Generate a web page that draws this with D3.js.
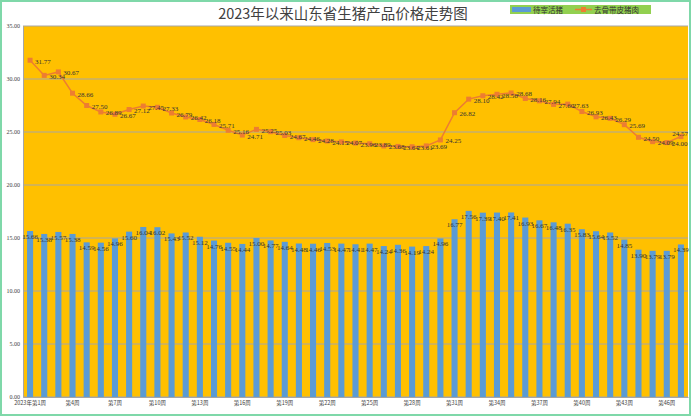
<!DOCTYPE html>
<html><head><meta charset="utf-8">
<script src="https://cdn.jsdelivr.net/npm/d3@7"></script>
<style>html,body{margin:0;padding:0;background:#fff;}svg{display:block;}</style>
</head><body>
<svg id="c" width="691" height="416"></svg>
<script>
const weeks = d3.range(1, 48).map(i => i === 1 ? "2023年第1周" : "第" + i + "周");
const liveHog = [15.66,15.38,15.57,15.38,14.59,14.56,14.96,15.60,16.04,16.02,15.43,15.52,15.12,14.76,14.55,14.44,15.00,14.77,14.64,14.48,14.46,14.53,14.47,14.41,14.47,14.24,14.36,14.19,14.24,14.96,16.77,17.56,17.39,17.40,17.41,16.93,16.67,16.48,16.35,15.83,15.64,15.52,14.85,13.90,13.79,13.79,14.39];
const pork = [31.77,30.34,30.67,28.66,27.50,26.89,26.67,27.12,27.45,27.33,26.79,26.42,26.18,25.71,25.16,24.71,25.25,25.03,24.67,24.46,24.28,24.15,24.07,23.96,23.89,23.68,23.64,23.61,23.69,24.25,26.82,28.10,28.42,28.56,28.68,28.16,27.94,27.60,27.63,26.93,26.43,26.29,25.69,24.50,24.09,24.00,24.57];
const yTicks = [0,5,10,15,20,25,30,35];
const seriesNames = ["待宰活猪", "去骨带皮猪肉"];
const title = "2023年以来山东省生猪产品价格走势图";

const svg = d3.select("#c");
const W = 691, H = 416;
const L = 23, R = 688, T = 26, B = 397;
const numFont = "'Liberation Serif','DejaVu Serif',serif";
const cjkFont = "'Noto Sans CJK SC','Noto Sans',sans-serif";

svg.append("rect").attr("x",1).attr("y",1).attr("width",W-2).attr("height",H-2)
  .attr("fill","#fff").attr("stroke","#7fd8a9").attr("stroke-width",2);

const x = d3.scaleBand().domain(weeks).range([L, R]).paddingInner(0.57).paddingOuter(0.285);
const y = d3.scaleLinear().domain([0, 35]).range([B, T]);
const cx = d => x(d) + x.bandwidth()/2;

svg.append("rect").attr("x",L).attr("y",T).attr("width",R-L).attr("height",B-T).attr("fill","#FFC000");

// grid
svg.append("g").selectAll("line").data(yTicks).join("line")
  .attr("x1",L).attr("x2",R).attr("y1",d=>y(d)).attr("y2",d=>y(d))
  .attr("stroke","#a6a6a6").attr("stroke-width",1);

// y axis
const ya = svg.append("g").attr("transform",`translate(${L},0)`)
  .call(d3.axisLeft(y).tickValues(yTicks).tickFormat(d3.format(".2f")).tickSize(0).tickPadding(3));
ya.select(".domain").attr("stroke","#a6a6a6");
ya.selectAll("text").attr("font-family",numFont).attr("font-size",6).attr("fill","#404040");

// x axis
const xa = svg.append("g").attr("transform",`translate(0,${B})`)
  .call(d3.axisBottom(x).tickValues(weeks.filter((d,i)=>i%3===0)).tickSize(0).tickPadding(4));
xa.select(".domain").attr("stroke","#a6a6a6");
xa.selectAll("text").attr("font-family",cjkFont).attr("font-size",5.5).attr("fill","#404040");

// bars
svg.append("g").selectAll("rect").data(liveHog).join("rect")
  .attr("x",(d,i)=>x(weeks[i])).attr("width",x.bandwidth())
  .attr("y",d=>y(d)).attr("height",d=>y(0)-y(d)).attr("fill","#5B9BD5");
svg.append("g").selectAll("text").data(liveHog).join("text")
  .attr("x",(d,i)=>cx(weeks[i])).attr("y",d=>y(d)+8)
  .attr("text-anchor","middle").attr("font-family",numFont).attr("font-size",7)
  .attr("fill","#333").text(d=>d3.format(".2f")(d));

// line
const line = d3.line().x((d,i)=>cx(weeks[i])).y(d=>y(d));
svg.append("path").datum(pork).attr("d",line).attr("fill","none")
  .attr("stroke","#ED7D31").attr("stroke-width",1.5);
svg.append("g").selectAll("rect").data(pork).join("rect")
  .attr("x",(d,i)=>cx(weeks[i])-2.5).attr("y",d=>y(d)-2.5)
  .attr("width",5).attr("height",5).attr("fill","#ED7D31");
const n = pork.length;
svg.append("g").selectAll("text").data(pork).join("text")
  .attr("x",(d,i)=> i === n-1 ? R : cx(weeks[i])+5)
  .attr("y",(d,i)=> i === n-1 ? y(d)-1 : y(d)+3.5)
  .attr("text-anchor",(d,i)=> i === n-1 ? "end" : "start")
  .attr("font-family",numFont).attr("font-size",7)
  .attr("fill","#333").text(d=>d3.format(".2f")(d));

// title
svg.append("text").attr("x",343).attr("y",19).attr("text-anchor","middle")
  .attr("font-family",cjkFont).attr("font-size",14.5).attr("fill","#404040").text(title);

// legend
const lg = svg.append("g");
lg.append("rect").attr("x",510).attr("y",5).attr("width",141).attr("height",9).attr("fill","#92D050");
lg.append("rect").attr("x",512).attr("y",7).attr("width",19).attr("height",5).attr("fill","#5B9BD5");
lg.append("text").attr("x",533).attr("y",12.5).attr("font-family",cjkFont).attr("font-size",7.5)
  .attr("fill","#333").text(seriesNames[0]);
lg.append("line").attr("x1",575).attr("x2",592).attr("y1",9.5).attr("y2",9.5)
  .attr("stroke","#ED7D31").attr("stroke-width",1.5);
lg.append("rect").attr("x",581).attr("y",7).attr("width",5).attr("height",5).attr("fill","#ED7D31");
lg.append("text").attr("x",594).attr("y",12.5).attr("font-family",cjkFont).attr("font-size",7.5)
  .attr("fill","#333").text(seriesNames[1]);
</script>
</body></html>
